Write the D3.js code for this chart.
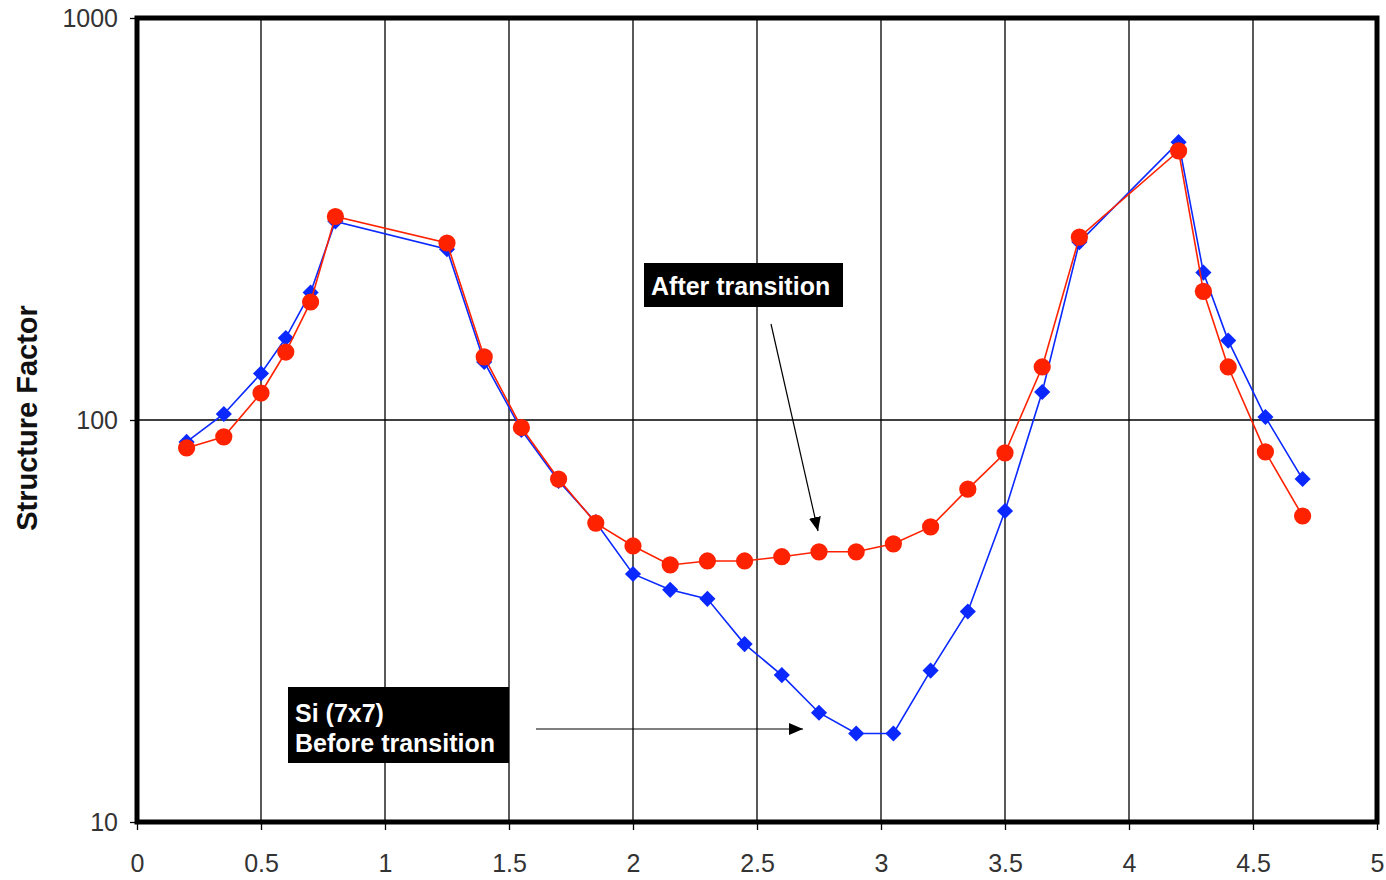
<!DOCTYPE html>
<html><head><meta charset="utf-8">
<script src="https://cdn.jsdelivr.net/npm/d3@7"></script>
<style>body{margin:0;background:#fff;} svg{display:block;}</style>
</head><body>
<svg id="chart" width="1386" height="880"></svg>
<script>
// ---- data ----
const qValues = [0.2,0.35,0.5,0.6,0.7,0.8,1.25,1.4,1.55,1.7,1.85,2.0,2.15,2.3,2.45,2.6,2.75,2.9,3.05,3.2,3.35,3.5,3.65,3.8,4.2,4.3,4.4,4.55,4.7];
const beforeValues = [88.2,103.5,130.5,160,207.6,312,266,139.4,94.4,70.5,55.7,41.4,37.8,35.9,27.7,23.2,18.7,16.6,16.6,23.8,33.4,59.4,117.4,277,491,232.6,157.6,101.7,71.3];
const afterValues = [85.2,90.8,116.7,147.6,196.6,320.8,275.6,143.5,95.8,71.3,55.4,48.6,43.6,44.6,44.6,45.7,47.0,47.0,49.2,54.2,67.3,82.8,135.5,285,467,209,135.5,83.3,57.7];
const xTicks = [0,0.5,1,1.5,2,2.5,3,3.5,4,4.5,5];
const yTicks = [10,100,1000];
const yAxisLabel = "Structure Factor";
const afterLabel = ["After transition"];
const beforeLabel = ["Si (7x7)","Before transition"];

// ---- chart ----
const svg = d3.select("#chart");
const FONT = "'Liberation Sans', Arial, sans-serif";
const x = d3.scaleLinear().domain([0,5]).range([137,1377]);
const y = d3.scaleLog().domain([10,1000]).range([822,18]);

const defs = svg.append("defs");
defs.append("marker").attr("id","arrow").attr("viewBox","0 0 14 12")
  .attr("refX",14).attr("refY",6).attr("markerWidth",14).attr("markerHeight",12)
  .attr("markerUnits","userSpaceOnUse").attr("orient","auto")
  .append("path").attr("d","M0,0 L14,6 L0,12 Z").attr("fill","#000");

// grid
const grid = svg.append("g");
grid.selectAll("line.v").data(xTicks.filter(d=>d>0&&d<5)).join("line")
  .attr("x1",d=>x(d)).attr("x2",d=>x(d)).attr("y1",y(1000)).attr("y2",y(10))
  .attr("stroke","#000").attr("stroke-width",1.3);
grid.selectAll("line.h").data([100]).join("line")
  .attr("x1",x(0)).attr("x2",x(5)).attr("y1",d=>y(d)).attr("y2",d=>y(d))
  .attr("stroke","#000").attr("stroke-width",1.3);

// axes
const xAxis = svg.append("g").attr("transform",`translate(0,${y(10)})`)
  .call(d3.axisBottom(x).tickValues(xTicks).tickSize(8).tickPadding(24).tickFormat(d3.format("~g")));
const yAxis = svg.append("g").attr("transform",`translate(${x(0)},0)`)
  .call(d3.axisLeft(y).tickValues(yTicks).tickSize(7).tickPadding(12).tickFormat(d3.format("d")));
[xAxis,yAxis].forEach(a=>{
  a.select(".domain").remove();
  a.selectAll(".tick line").attr("stroke","#000").attr("stroke-width",1.3);
  a.selectAll(".tick text").attr("font-family",FONT).attr("font-size",25).attr("fill","#333");
});

// frame
svg.append("rect").attr("x",x(0)).attr("y",y(1000)).attr("width",x(5)-x(0)).attr("height",y(10)-y(1000))
  .attr("fill","none").attr("stroke","#000").attr("stroke-width",5);

// series
const before = qValues.map((q,i)=>({q,v:beforeValues[i]}));
const after = qValues.map((q,i)=>({q,v:afterValues[i]}));
const line = d3.line().x(d=>x(d.q)).y(d=>y(d.v));
const BLUE = "#0a28ff", RED = "#ff2200";

svg.append("path").datum(before).attr("d",line).attr("fill","none").attr("stroke",BLUE).attr("stroke-width",1.6);
const diamond = d3.symbol().type(d3.symbolSquare).size(130);
svg.append("g").selectAll("path").data(before).join("path")
  .attr("d",diamond).attr("transform",d=>`translate(${x(d.q)},${y(d.v)}) rotate(45)`).attr("fill",BLUE);

svg.append("path").datum(after).attr("d",line).attr("fill","none").attr("stroke",RED).attr("stroke-width",1.6);
svg.append("g").selectAll("circle").data(after).join("circle")
  .attr("cx",d=>x(d.q)).attr("cy",d=>y(d.v)).attr("r",8.6).attr("fill",RED);

// annotations
svg.append("rect").attr("x",644).attr("y",263).attr("width",199).attr("height",44).attr("fill","#000");
svg.append("text").attr("x",651).attr("y",295).attr("font-family",FONT).attr("font-weight","bold")
  .attr("font-size",25).attr("fill","#fff").text(afterLabel[0]);
svg.append("line").attr("x1",771).attr("y1",324).attr("x2",818).attr("y2",531)
  .attr("stroke","#000").attr("stroke-width",1.2).attr("marker-end","url(#arrow)");

svg.append("rect").attr("x",288).attr("y",687).attr("width",221).attr("height",76).attr("fill","#000");
svg.append("text").attr("font-family",FONT).attr("font-weight","bold").attr("font-size",25).attr("fill","#fff")
  .selectAll("tspan").data(beforeLabel).join("tspan")
  .attr("x",295).attr("y",(d,i)=>722+i*30).text(d=>d);
svg.append("line").attr("x1",536).attr("y1",729).attr("x2",803).attr("y2",729)
  .attr("stroke","#000").attr("stroke-width",1.2).attr("marker-end","url(#arrow)");

// y label
svg.append("text").attr("transform","translate(37,418) rotate(-90)").attr("text-anchor","middle")
  .attr("font-family",FONT).attr("font-weight","bold").attr("font-size",29).attr("fill","#111").text(yAxisLabel);
</script>
</body></html>
